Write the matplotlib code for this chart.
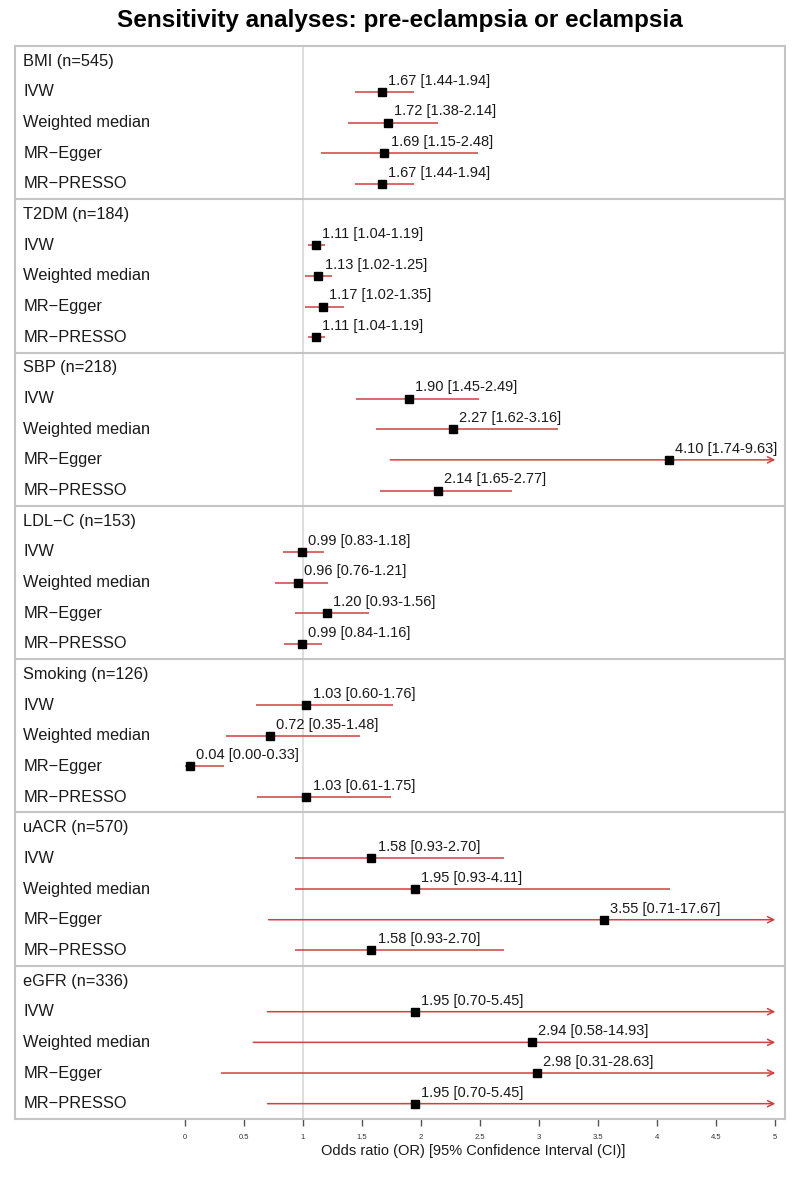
import matplotlib
matplotlib.use("Agg")
import matplotlib.pyplot as plt
import numpy as np

plt.rcParams['font.family'] = ['Liberation Sans', 'DejaVu Sans']

groups = ["BMI (n=545)", "T2DM (n=184)", "SBP (n=218)", "LDL\u2212C (n=153)",
          "Smoking (n=126)", "uACR (n=570)", "eGFR (n=336)"]
methods = ["IVW", "Weighted median", "MR\u2212Egger", "MR\u2212PRESSO"]

or_vals = [
    [1.67, 1.72, 1.69, 1.67],
    [1.11, 1.13, 1.17, 1.11],
    [1.90, 2.27, 4.10, 2.14],
    [0.99, 0.96, 1.20, 0.99],
    [1.03, 0.72, 0.04, 1.03],
    [1.58, 1.95, 3.55, 1.58],
    [1.95, 2.94, 2.98, 1.95],
]
ci_low = [
    [1.44, 1.38, 1.15, 1.44],
    [1.04, 1.02, 1.02, 1.04],
    [1.45, 1.62, 1.74, 1.65],
    [0.83, 0.76, 0.93, 0.84],
    [0.60, 0.35, 0.00, 0.61],
    [0.93, 0.93, 0.71, 0.93],
    [0.70, 0.58, 0.31, 0.70],
]
ci_high = [
    [1.94, 2.14, 2.48, 1.94],
    [1.19, 1.25, 1.35, 1.19],
    [2.49, 3.16, 9.63, 2.77],
    [1.18, 1.21, 1.56, 1.16],
    [1.76, 1.48, 0.33, 1.75],
    [2.70, 4.11, 17.67, 2.70],
    [5.45, 14.93, 28.63, 5.45],
]
xticks = [0, 0.5, 1, 1.5, 2, 2.5, 3, 3.5, 4, 4.5, 5]
xtick_labels = ["0", "0.5", "1", "1.5", "2", "2.5", "3", "3.5", "4", "4.5", "5"]

XMAX = 5.0
red = "#d04040"
box_col = "#c4c4c4"

fig = plt.figure(figsize=(8, 11.77), dpi=100)
ax = fig.add_axes([15/800, 1-1119/1177, 770/800, (1119-46)/1177])

ng = len(groups)
rows_per = 5
nrows = ng * rows_per
ax.set_ylim(nrows, 0)
ax.set_xlim(-1.438, 5.082)

ax.axvline(1, color="#dcdcdc", lw=1.3, zorder=0)

lbl_tr = ax.get_yaxis_transform()
for g in range(ng):
    base = g * rows_per
    if g > 0:
        ax.axhline(base, color=box_col, lw=1.5, zorder=1)
    ax.text(0.011, base + 0.5, groups[g], transform=lbl_tr, ha="left",
            va="center", fontsize=11.8, color="#1a1a1a")
    for m in range(4):
        y = base + 1.5 + m
        ax.text(0.011, y, methods[m], transform=lbl_tr, ha="left",
                va="center", fontsize=11.8, color="#1a1a1a")
        o, lo, hi = or_vals[g][m], ci_low[g][m], ci_high[g][m]
        if hi > XMAX:
            ax.annotate("", xy=(XMAX, y), xytext=(lo, y),
                        arrowprops=dict(arrowstyle="->", color=red, lw=1.1,
                                        shrinkA=0, shrinkB=0, mutation_scale=11),
                        zorder=2)
        else:
            ax.plot([lo, hi], [y, y], color=red, lw=1.1, zorder=2,
                    solid_capstyle="butt")
        ax.plot([o], [y], marker="s", color="black", markersize=5.5, zorder=3)
        ax.annotate(f"{o:.2f} [{lo:.2f}-{hi:.2f}]", xy=(o, y),
                    xytext=(4.5, 3), textcoords="offset points",
                    ha="left", va="bottom", fontsize=10.5, color="#1a1a1a")

for s in ax.spines.values():
    s.set_color(box_col)
    s.set_linewidth(1.5)

ax.set_yticks([])
ax.set_xticks(xticks)
ax.set_xticklabels(xtick_labels, fontsize=5.5, color="#333333")
ax.tick_params(axis="x", direction="out", length=5, width=1, color="#555555", pad=6)
ax.set_xlabel("Odds ratio (OR) [95% Confidence Interval (CI)]", fontsize=10.5,
              color="#1a1a1a")
ax.xaxis.set_label_coords((473 - 15) / 770, -0.0235)
ax.xaxis.label.set_va("top")

fig.text(0.5, 1-20/1177, "Sensitivity analyses: pre-eclampsia or eclampsia",
         ha="center", va="center", fontsize=17.5, fontweight="bold")

fig.savefig("out.png", dpi=100)
